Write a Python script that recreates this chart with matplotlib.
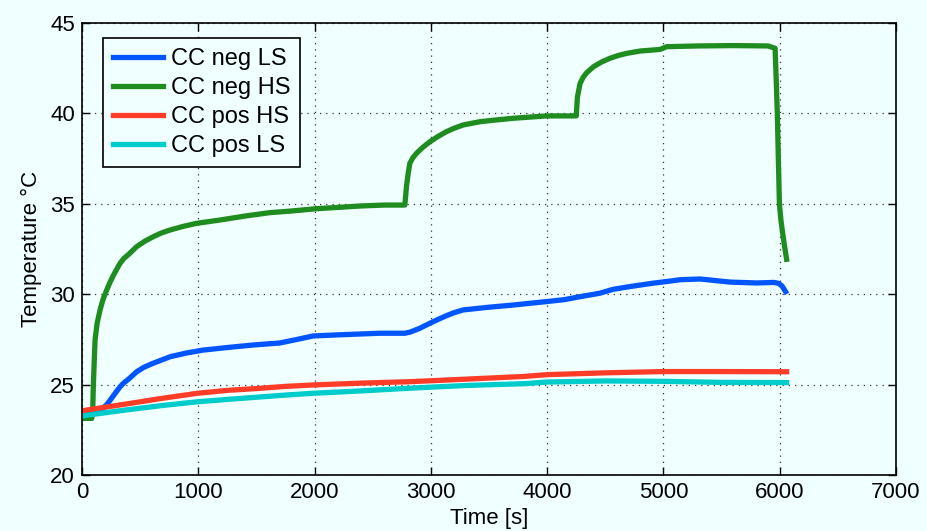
import matplotlib
matplotlib.use("Agg")
import matplotlib.pyplot as plt

plt.rcParams['font.family'] = ['Liberation Sans', 'DejaVu Sans']

# Measured temperatures of the current collectors (time in s, temperature in degC)
neg_ls_t = [0, 100, 183, 220, 260, 300, 327, 360, 400, 470, 530, 600, 680, 757, 900,
            1043, 1250, 1473, 1700, 1850, 1988, 2200, 2400, 2561, 2776, 2820, 2900,
            2991, 3060, 3130, 3200, 3278, 3500, 3708, 3994, 4150, 4281, 4450, 4568,
            4711, 4900, 5050, 5142, 5314, 5450, 5572, 5800, 5950, 5990, 6020, 6050]
neg_ls_T = [23.35, 23.4, 23.7, 23.95, 24.3, 24.65, 24.88, 25.1, 25.3, 25.71, 25.95,
            26.15, 26.35, 26.54, 26.75, 26.91, 27.05, 27.19, 27.3, 27.5, 27.69, 27.75,
            27.8, 27.84, 27.84, 27.9, 28.1, 28.39, 28.6, 28.8, 28.98, 29.13, 29.28,
            29.4, 29.59, 29.7, 29.86, 30.05, 30.27, 30.42, 30.6, 30.72, 30.8, 30.84,
            30.75, 30.67, 30.62, 30.65, 30.6, 30.45, 30.14]

neg_hs_t = [0, 83, 92, 97, 105, 112, 130, 155, 180, 212, 240, 270, 300, 327, 360, 400,
            470, 540, 613, 680, 757, 870, 986, 1184, 1400, 1614, 1800, 2000, 2200, 2400,
            2600, 2776, 2790, 2805, 2819, 2845, 2876, 2930, 2991, 3060, 3134, 3200, 3278,
            3421, 3550, 3708, 3994, 4222, 4250, 4260, 4283, 4310, 4340, 4398, 4470, 4541,
            4610, 4684, 4800, 4900, 4971, 5028, 5300, 5600, 5900, 5960, 5970, 5979, 5988,
            5997, 6010, 6020, 6040, 6059]
neg_hs_T = [23.13, 23.13, 23.6, 24.9, 26.3, 27.47, 28.4, 29.13, 29.7, 30.23, 30.65,
            31.05, 31.4, 31.71, 31.98, 32.2, 32.63, 32.93, 33.18, 33.38, 33.55, 33.75,
            33.92, 34.1, 34.32, 34.51, 34.6, 34.72, 34.8, 34.88, 34.93, 34.93, 35.95,
            36.7, 37.24, 37.55, 37.79, 38.12, 38.43, 38.72, 38.99, 39.18, 39.36, 39.54,
            39.63, 39.73, 39.86, 39.86, 39.86, 40.9, 41.66, 42.0, 42.25, 42.58, 42.85,
            43.05, 43.2, 43.32, 43.45, 43.5, 43.54, 43.69, 43.73, 43.75, 43.73, 43.6,
            41.8, 40.0, 37.5, 35.0, 34.1, 33.6, 32.7, 31.93]

pos_hs_t = [0, 150, 384, 700, 994, 1250, 1500, 1750, 1988, 2400, 2820, 3300, 3800, 4000,
            4500, 5000, 5500, 6059]
pos_hs_T = [23.55, 23.7, 23.93, 24.25, 24.52, 24.68, 24.78, 24.9, 24.98, 25.08, 25.16,
            25.3, 25.45, 25.55, 25.65, 25.72, 25.72, 25.71]

pos_ls_t = [0, 150, 384, 700, 994, 1250, 1500, 1750, 1988, 2400, 2820, 3300, 3800, 4000,
            4500, 5000, 5500, 6059]
pos_ls_T = [23.26, 23.4, 23.6, 23.85, 24.05, 24.18, 24.3, 24.42, 24.52, 24.65, 24.8,
            24.95, 25.05, 25.14, 25.2, 25.18, 25.12, 25.11]

series = [
    ("CC neg LS", neg_ls_t, neg_ls_T, "#0055ff"),
    ("CC neg HS", neg_hs_t, neg_hs_T, "#1e8c1e"),
    ("CC pos HS", pos_hs_t, pos_hs_T, "#ff3c28"),
    ("CC pos LS", pos_ls_t, pos_ls_T, "#00cccc"),
]

x_ticks = [0, 1000, 2000, 3000, 4000, 5000, 6000, 7000]
y_ticks = [20, 25, 30, 35, 40, 45]

bg = "#f0ffff"
fig = plt.figure(figsize=(9.27, 5.31), dpi=100, facecolor=bg)
ax = fig.add_axes([0.0885, 0.1055, 0.8781, 0.8512], facecolor=bg)

for label, t, T, c in series:
    ax.plot(t, T, color=c, lw=3.8, label=label, solid_joinstyle='round')

ax.set_xlim(0, 7000)
ax.set_ylim(20, 45)
ax.set_xticks(x_ticks)
ax.set_yticks(y_ticks)
ax.tick_params(axis='both', direction='in', length=6, width=1, labelsize=16,
               top=True, right=True, pad=5)
ax.grid(True, linestyle=(0, (1, 4)), color='#333333', linewidth=0.9)
for s in ax.spines.values():
    s.set_linewidth(1.2)

ax.set_xlabel("Time [s]", fontsize=16, labelpad=4)
ax.set_ylabel("Temperature \u00b0C", fontsize=16, labelpad=6)

leg = ax.legend(loc='upper left', bbox_to_anchor=(0.0258, 0.967), borderaxespad=0,
                fontsize=17, frameon=True, fancybox=False, handlelength=2.1,
                handletextpad=0.35, labelspacing=0.3, borderpad=0.42)
leg.get_frame().set_edgecolor('black')
leg.get_frame().set_linewidth(1.2)
leg.get_frame().set_facecolor(bg)
leg.get_frame().set_alpha(1)

fig.savefig("out.png", dpi=100, facecolor=bg)
